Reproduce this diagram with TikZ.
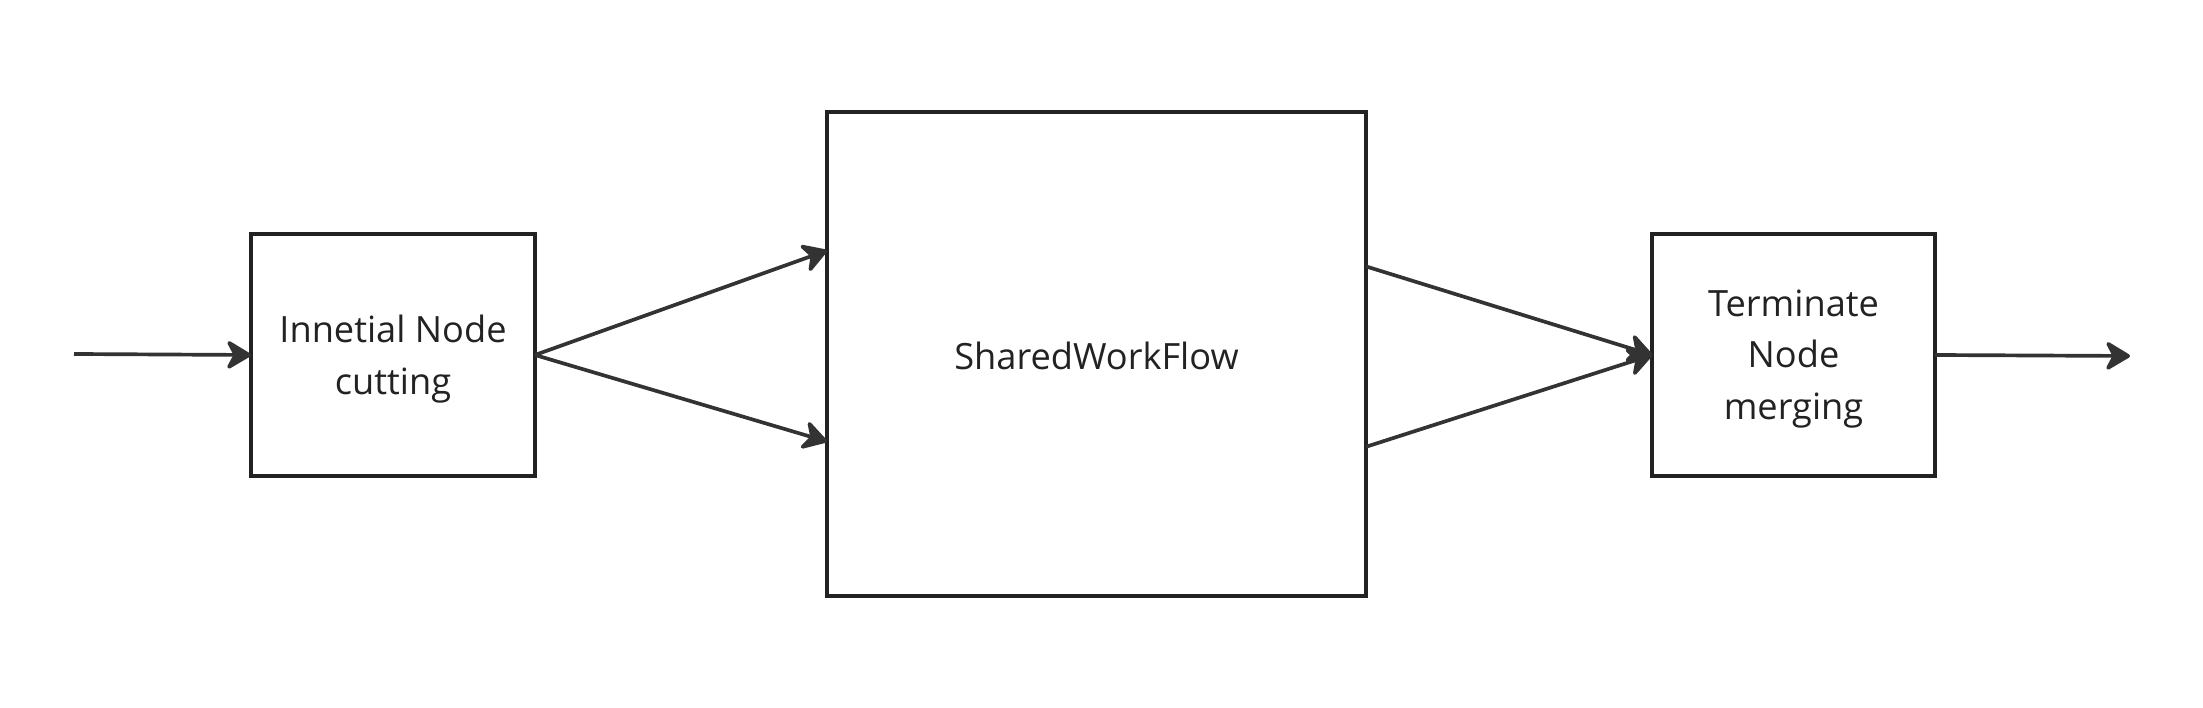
\documentclass[tikz,border=0pt]{standalone}
\usepackage{fontspec}
\setmainfont{Open Sans}
\usetikzlibrary{arrows.meta}

\definecolor{boxline}{HTML}{222222}
\definecolor{arrline}{HTML}{333333}

\tikzset{
  block/.style={draw=boxline,line width=1.05pt,outer sep=0pt,inner sep=0pt},
  caption/.style={align=center,text=boxline,yshift=-0.04cm,
    font=\fontsize{10.3}{14.6}\selectfont},
  flow/.style={draw=arrline,line width=1.05pt,
    -{Stealth[length=8pt,width=9.5pt,inset=2.5pt,round]}}
}

\begin{document}
\begin{tikzpicture}
   \useasboundingbox (0,0) rectangle (22.03,7.08);

   \node[block,minimum width=2.84cm,minimum height=2.42cm,
     label={[caption]center:Innetial Node\\cutting}] (cut) at (3.93,3.53) {};
   \node[block,minimum width=5.39cm,minimum height=4.84cm,
     label={[caption,yshift=0.02cm]center:SharedWorkFlow}] (shared) at (10.965,3.54) {};
   \node[block,minimum width=2.83cm,minimum height=2.42cm,
     label={[caption]center:Terminate\\Node\\merging}] (merge) at (17.935,3.53) {};

   \coordinate (in) at (0.74,3.54);
   \coordinate (out) at (21.30,3.52);

   \draw[flow] (in) -- (cut.west);
   \draw[flow] (cut.east) -- (shared.159);
   \draw[flow] (cut.east) -- (shared.198.5);
   \draw[flow] (shared.18) -- (merge.west);
   \draw[flow] (shared.341) -- (merge.west);
   \draw[flow] (merge.east) -- (out);
\end{tikzpicture}
\end{document}
